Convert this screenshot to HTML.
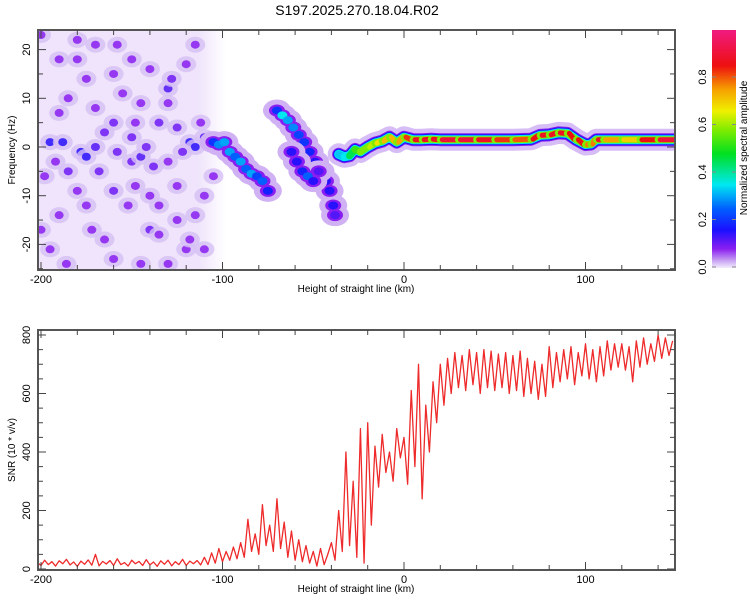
<!DOCTYPE html>
<html><head><meta charset="utf-8"><style>
body{margin:0;background:#fff;}
svg{display:block;font-family:"Liberation Sans",sans-serif;}
</style></head><body>
<svg id="chart" width="750" height="600" viewBox="0 0 750 600">
<defs>
<linearGradient id="cmap" x1="0" y1="1" x2="0" y2="0">
<stop offset="0" stop-color="#f4ecfd"/><stop offset="0.03" stop-color="#c9a6f2"/><stop offset="0.08" stop-color="#8a1ef0"/>
<stop offset="0.16" stop-color="#1a10ff"/><stop offset="0.25" stop-color="#0060ff"/><stop offset="0.35" stop-color="#00e8f0"/>
<stop offset="0.48" stop-color="#00e020"/><stop offset="0.58" stop-color="#80ec00"/><stop offset="0.66" stop-color="#f0f000"/>
<stop offset="0.75" stop-color="#f6a000"/><stop offset="0.85" stop-color="#ee1010"/><stop offset="1" stop-color="#f01a80"/>
</linearGradient>
<linearGradient id="noiseFade" x1="0" y1="0" x2="1" y2="0">
<stop offset="0" stop-color="#efe4fb"/><stop offset="0.85" stop-color="#efe4fb"/><stop offset="1" stop-color="#efe4fb" stop-opacity="0"/>
</linearGradient>
<clipPath id="clipTop"><rect x="38" y="30" width="637" height="240"/></clipPath>
<clipPath id="clipBot"><rect x="38" y="330" width="637" height="240"/></clipPath>
</defs>
<text x="357" y="15" font-size="14" text-anchor="middle">S197.2025.270.18.04.R02</text>
<g id="topPanel"></g>
<g id="botPanel"></g>
<g id="cbar"></g>
</svg>
<script>
// ---- data ----
const ridgeX = [-105,-102,-99,-96,-93,-90,-87,-84,-81,-78,-75];
const ridgeF = [1,0.5,1,-1,-2,-3,-4.5,-5.5,-6,-7,-9];
const ridgeA = [0.2,0.28,0.3,0.3,0.25,0.3,0.25,0.3,0.22,0.25,0.18];
const branchX = [-70,-67,-64,-61,-58,-55,-52,-49,-46,-43,-41,-39,-38];
const branchF = [7.5,6.5,5.5,4,2.5,1,-1,-3,-5,-7,-9,-12,-14];
const branchA = [0.2,0.35,0.3,0.28,0.22,0.2,0.18,0.15,0.15,0.15,0.15,0.15,0.12];
const subX = [-62,-59,-56,-53,-50,-47];
const subF = [-1,-3,-5,-6,-7,-5];
const subA = [0.15,0.15,0.18,0.25,0.15,0.12];
const bandX = [-36,-33,-30,-27,-24,-20,-16,-12,-8,-4,0,5,10,15,20,30,40,50,60,70,75,80,85,90,95,100,103,106,110,120,130,140,150];
const bandF = [-1.5,-2,-1.8,-0.5,-1,0,0.8,1.2,2,1,2,1.5,1.5,1.6,1.5,1.5,1.5,1.5,1.5,1.6,2.4,2.5,2.9,2.8,1.5,0.5,0.6,1.5,1.5,1.5,1.5,1.5,1.5];
const bandA = [0.35,0.3,0.4,0.5,0.55,0.6,0.65,0.7,0.75,0.7,0.8,0.85,0.9,0.85,0.9,0.9,0.9,0.85,0.8,0.8,0.9,0.85,0.9,0.85,0.85,0.85,0.7,0.85,0.9,0.6,0.8,0.9,0.9];
const noiseX = [-195,-188,-185,-178,-175,-170,-160,-150,-145,-142,-130,-128,-125,-118,-115,-110,-190,-180,-170,-158,-150,-140,-120,-195,-175,-165,-160,-152,-140,-135,-120,-115,-185,-170,-155,-135,-125,-110,-198,-192,-180,-168,-148,-138,-130,-122,-112,-105,-200,-186,-160,-145,-130,-110,-190,-175,-160,-145,-130,-115,-200,-180,-165,-150,-140,-125,-118,-190,-172,-158,-148,-135];
const noiseF = [1,1,-5,-1,-2,0,5,-3,-2,0,12,14,4,1,0,2,18,18,21,21,18,16,17,-21,-12,-19,-9,-12,-17,-18,-21,-14,10,8,11,5,-8,-10,-6,-3,-9,-5,-8,-4,-3,-1,5,-6,-17,-24,-23,-24,-24,-21,7,14,15,9,9,21,23,22,3,2,-10,-15,-19,-14,-17,-1,5,-12];
const noiseA = [0.15,0.15,0.1,0.15,0.15,0.12,0.1,0.1,0.12,0.1,0.12,0.1,0.1,0.15,0.15,0.12,0.08,0.08,0.08,0.08,0.08,0.08,0.08,0.08,0.08,0.08,0.1,0.08,0.1,0.08,0.08,0.08,0.08,0.08,0.08,0.1,0.08,0.08,0.08,0.08,0.08,0.1,0.08,0.1,0.08,0.1,0.08,0.08,0.08,0.08,0.08,0.08,0.08,0.08,0.08,0.08,0.08,0.08,0.08,0.08,0.08,0.08,0.1,0.1,0.08,0.08,0.08,0.08,0.08,0.1,0.08,0.08];
const snrStart = -202, snrStep = 2;
const snrValues = [22,12,30,15,25,10,28,18,33,14,24,9,27,16,31,13,50,11,26,17,29,12,35,15,22,10,30,18,26,12,32,14,24,9,28,16,30,11,25,15,33,12,27,18,29,14,
40,15,55,20,70,25,60,30,75,35,
90,40,170,60,120,50,220,80,150,60,
240,70,160,40,130,30,100,25,80,20,
60,10,70,15,50,
90,30,200,60,400,80,300,40,480,20,
500,150,420,280,460,330,400,300,480,380,
450,290,610,350,700,240,560,400,640,500,
700,560,720,600,740,620,730,610,750,630,
740,600,750,620,745,610,735,620,740,600,
730,610,745,590,720,600,710,580,700,590,
760,620,740,640,750,650,760,630,740,660,
770,650,750,640,760,660,780,680,770,690,
770,680,760,640,780,690,790,700,770,710,800,720,790,730,780];
const xTicks = [-200,-100,0,100];
const fTicks = [-20,-10,0,10,20];
const snrTicks = [0,200,400,600,800];
const cbTicks = ["0.0","0.2","0.4","0.6","0.8"];

// ---- scales ----
const L=38,R=675;
const X = v => 404 + (v)*1.815;
const YF = f => 147 - f*4.87;
const YS = s => 569 - s*0.2925;
const NS='http://www.w3.org/2000/svg';
function mk(tag, attrs, parent){const e=document.createElementNS(NS,tag);for(const k in attrs)e.setAttribute(k,attrs[k]);parent.appendChild(e);return e;}
const stops=[[0,[244,236,253]],[0.03,[201,166,242]],[0.08,[138,30,240]],[0.16,[26,16,255]],[0.25,[0,96,255]],[0.35,[0,232,240]],[0.48,[0,224,32]],[0.58,[128,236,0]],[0.66,[240,240,0]],[0.75,[246,160,0]],[0.85,[238,16,16]],[1,[240,26,128]]];
function cmap(a){for(let i=1;i<stops.length;i++){if(a<=stops[i][0]){const t=(a-stops[i-1][0])/(stops[i][0]-stops[i-1][0]);const c=stops[i-1][1].map((v,j)=>Math.round(v+(stops[i][1][j]-v)*t));return `rgb(${c})`;}}return 'rgb(240,26,128)';}

const topG=document.getElementById('topPanel'), botG=document.getElementById('botPanel'), cb=document.getElementById('cbar');
// ---- top panel ----
const gt=mk('g',{'clip-path':'url(#clipTop)'},topG);
mk('rect',{x:X(-202),y:30,width:X(-98)-X(-202),height:240,fill:'url(#noiseFade)'},gt);
noiseX.forEach((x,i)=>{
  const c=mk('ellipse',{cx:X(x),cy:YF(noiseF[i]),rx:10,ry:8,fill:'#d6bff5',opacity:0.8},gt);
  
  
  const d=mk('ellipse',{cx:X(x),cy:YF(noiseF[i]),rx:4.5,ry:4,fill:cmap(noiseA[i]),opacity:0.85},gt);
  
  
});
function blobs(xs,fs,as){
  [[14,11,0.025],[8,6,0.08],[5,4,null]].forEach(([rx,ry,a])=>{
    xs.forEach((x,i)=>{
      const e=mk('ellipse',{cx:X(x),cy:YF(fs[i]),rx:rx,ry:ry,fill:cmap(a===null?as[i]:Math.min(a,as[i]))},gt);
      
      
    });
  });
}
blobs(ridgeX,ridgeF,ridgeA); blobs(branchX,branchF,branchA); blobs(subX,subF,subA);
const bandPts=bandX.map((x,i)=>X(x)+','+YF(bandF[i])).join(' ');
[[22,0.02],[13,0.08],[11,0.16],[9,0.35]].forEach(([w,a])=>{
  const p=mk('polyline',{points:bandPts,fill:'none',stroke:cmap(a),'stroke-width':w,'stroke-linejoin':'round','stroke-linecap':'round'},gt);
  
  
});
for(let i=0;i<bandX.length-1;i++){
  const a=(bandA[i]+bandA[i+1])/2;
  const s1=mk('line',{x1:X(bandX[i]),y1:YF(bandF[i]),x2:X(bandX[i+1]),y2:YF(bandF[i+1]),stroke:cmap(Math.min(a,0.58)),'stroke-width':7,'stroke-linecap':'round'},gt);
  
  
  if(a>0.6){const s2=mk('line',{x1:X(bandX[i])+2,y1:YF(bandF[i]),x2:X(bandX[i+1])-2,y2:YF(bandF[i+1]),stroke:cmap(a),'stroke-width':5,'stroke-linecap':'round'},gt);
  
  }
}
function frame(g,y0,y1){const r=mk('rect',{x:L,y:y0,width:R-L,height:y1-y0,fill:'none',stroke:'#555','stroke-width':2},g);}
function xaxis(g,y0,y1){
  for(let v=-200;v<=140;v+=20){const x=X(v);const len=(v%100===0)?8:5;
    mk('line',{x1:x,y1:y1,x2:x,y2:y1-len,stroke:'#444','stroke-width':1},g);
    mk('line',{x1:x,y1:y0,x2:x,y2:y0+len,stroke:'#444','stroke-width':1},g);}
  xTicks.forEach(v=>{const t=mk('text',{x:X(v),y:y1+13,'font-size':11,'text-anchor':'middle'},g);t.textContent=v;});
  const tt=mk('text',{x:356,y:y1+22,'font-size':10,'text-anchor':'middle'},g);tt.textContent='Height of straight line (km)';
  
  
}
frame(topG,30,270); xaxis(topG,30,270);
for(let f=-25;f<=20;f+=5){const y=YF(f);const len=f%10===0?8:5;mk('line',{x1:L,y1:y,x2:L+len,y2:y,stroke:'#444'},topG);mk('line',{x1:R,y1:y,x2:R-len,y2:y,stroke:'#444'},topG);}
fTicks.forEach(f=>{const t=mk('text',{x:0,y:0,'font-size':11,'text-anchor':'middle',transform:`translate(30,${YF(f)}) rotate(-90)`},topG);t.textContent=f;});
const yt=mk('text',{x:0,y:0,'font-size':10,'text-anchor':'middle',transform:'translate(15,150) rotate(-90)'},topG);yt.textContent='Frequency (Hz)';


// ---- bottom panel ----
const gb=mk('g',{'clip-path':'url(#clipBot)'},botG);
const line=mk('polyline',{points:snrValues.map((v,i)=>X(snrStart+i*snrStep)+','+YS(v)).join(' '),fill:'none',stroke:'#ee2a2a','stroke-width':1.3,'stroke-linejoin':'round'},gb);


frame(botG,330,570); xaxis(botG,330,570);
for(let s=0;s<=800;s+=50){const y=YS(s);const len=s%200===0?8:5;mk('line',{x1:L,y1:y,x2:L+len,y2:y,stroke:'#444'},botG);mk('line',{x1:R,y1:y,x2:R-len,y2:y,stroke:'#444'},botG);}
snrTicks.forEach(s=>{const t=mk('text',{x:0,y:0,'font-size':11,'text-anchor':'middle',transform:`translate(30,${YS(s)}) rotate(-90)`},botG);t.textContent=s;});
const yt2=mk('text',{x:0,y:0,'font-size':10,'text-anchor':'middle',transform:'translate(15,450) rotate(-90)'},botG);yt2.textContent='SNR (10 * v/v)';


// ---- colorbar ----
mk('rect',{x:712,y:30,width:24,height:238,fill:'url(#cmap)'},cb);
cbTicks.forEach((s,i)=>{const y=267-i*47.5;
  mk('line',{x1:712,y1:y,x2:716,y2:y,stroke:'#888'},cb);mk('line',{x1:732,y1:y,x2:736,y2:y,stroke:'#888'},cb);
  const t=mk('text',{x:0,y:0,'font-size':11,'text-anchor':'middle',transform:`translate(706,${y}) rotate(-90)`},cb);t.textContent=s;
  
  });
const ct=mk('text',{x:0,y:0,'font-size':10,'text-anchor':'middle',transform:'translate(747,148) rotate(-90)'},cb);ct.textContent='Normalized spectral amplitude';


</script>
</body></html>
